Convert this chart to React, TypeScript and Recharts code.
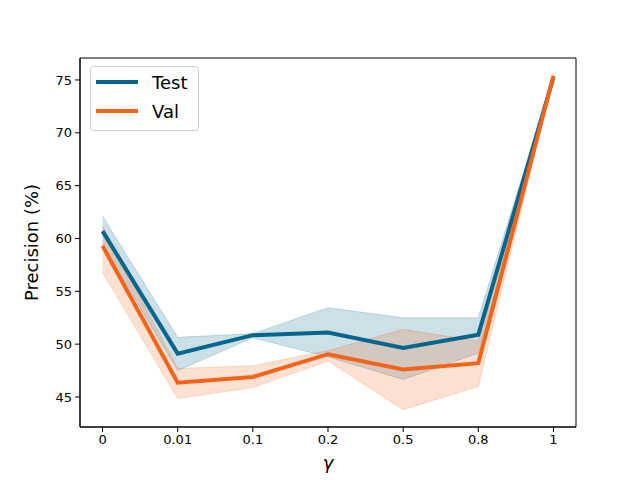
import React from 'react';
import { ComposedChart, Line, Area, XAxis, YAxis, ReferenceArea } from 'recharts';

const categories = ['0', '0.01', '0.1', '0.2', '0.5', '0.8', '1'];
const testMean = [60.7, 49.1, 50.85, 51.1, 49.65, 50.9, 75.25];
const testLow = [59.4, 47.5, 50.6, 48.8, 46.65, 49.15, 75.1];
const testHigh = [62.1, 50.65, 51.0, 53.45, 52.5, 52.5, 75.4];
const valMean = [59.3, 46.35, 46.9, 49.05, 47.6, 48.2, 75.4];
const valLow = [56.8, 44.85, 45.9, 48.4, 43.8, 46.0, 75.2];
const valHigh = [61.2, 47.7, 47.95, 49.4, 51.4, 50.3, 75.6];
const yTicks = [45, 50, 55, 60, 65, 70, 75];
const seriesNames = ['Test', 'Val'];

const TEST = '#05668D';
const VAL = '#F26419';
const FONT = '"DejaVu Sans", sans-serif';

const data = categories.map((c, i) => ({
  x: i,
  test: testMean[i],
  val: valMean[i],
  testRange: [testLow[i], testHigh[i]],
  valRange: [valLow[i], valHigh[i]],
}));

const LegendBox = () => (
  <svg width={110} height={66} style={{ display: 'block' }}>
    <rect x={0.5} y={0.5} width={108} height={64} rx={3} ry={3} fill="#fff" fillOpacity={0.8} stroke="#ccc" strokeWidth={1} />
    <line x1={6} x2={48} y1={16} y2={16} stroke={TEST} strokeWidth={4} />
    <line x1={6} x2={48} y1={45} y2={45} stroke={VAL} strokeWidth={4} />
    <text x={62} y={22.5} fontSize={18} fontFamily={FONT} fill="#000">{seriesNames[0]}</text>
    <text x={62} y={51.5} fontSize={18} fontFamily={FONT} fill="#000">{seriesNames[1]}</text>
  </svg>
);

export default function App() {
  return (
    <div style={{ position: 'absolute', left: 0, top: 0, width: 640, height: 480, background: '#fff' }}>
      <ComposedChart width={640} height={480} data={data} margin={{ top: 58, right: 64, bottom: 0, left: 0 }}>
        <XAxis
          dataKey="x"
          type="number"
          domain={[-0.3, 6.3]}
          ticks={[0, 1, 2, 3, 4, 5, 6]}
          tickFormatter={(v: number) => categories[v]}
          height={53}
          tickSize={5}
          tickMargin={3}
          stroke="#000"
          tick={{ fill: '#000', fontSize: 13, fontFamily: FONT }}
          allowDataOverflow
          label={{
            content: (props: any) => {
              const vb = props.viewBox || { x: 80, y: 427, width: 496 };
              return (
                <text x={vb.x + vb.width / 2} y={vb.y + 42} textAnchor="middle" fontSize={18} fontStyle="italic" fontFamily={FONT} fill="#000">γ</text>
              );
            },
          }}
        />
        <YAxis
          type="number"
          domain={[42.16, 77.08]}
          ticks={yTicks}
          width={80}
          tickSize={5}
          tickMargin={3}
          stroke="#000"
          tick={{ fill: '#000', fontSize: 13, fontFamily: FONT }}
          allowDataOverflow
          label={{
            content: (props: any) => {
              const vb = props.viewBox || { x: 0, y: 58, height: 369 };
              const cx = 38;
              const cy = vb.y + vb.height / 2;
              return (
                <text x={cx} y={cy} transform={`rotate(-90 ${cx} ${cy})`} textAnchor="middle" fontSize={18} fontFamily={FONT} fill="#000">Precision (%)</text>
              );
            },
          }}
        />
        <Area dataKey="testRange" type="linear" stroke={TEST} strokeOpacity={0.2} strokeWidth={1} fill={TEST} fillOpacity={0.2} isAnimationActive={false} />
        <Area dataKey="valRange" type="linear" stroke={VAL} strokeOpacity={0.2} strokeWidth={1} fill={VAL} fillOpacity={0.2} isAnimationActive={false} />
        <Line dataKey="test" type="linear" stroke={TEST} strokeWidth={4} dot={false} activeDot={false} isAnimationActive={false} />
        <Line dataKey="val" type="linear" stroke={VAL} strokeWidth={4} dot={false} activeDot={false} isAnimationActive={false} />
        <ReferenceArea x1={-0.3} x2={6.3} y1={42.16} y2={77.08} fill="none" stroke="#000" strokeWidth={1} ifOverflow="visible" />
      </ComposedChart>
      <div style={{ position: 'absolute', left: 90, top: 66 }}>
        <LegendBox />
      </div>
    </div>
  );
}
